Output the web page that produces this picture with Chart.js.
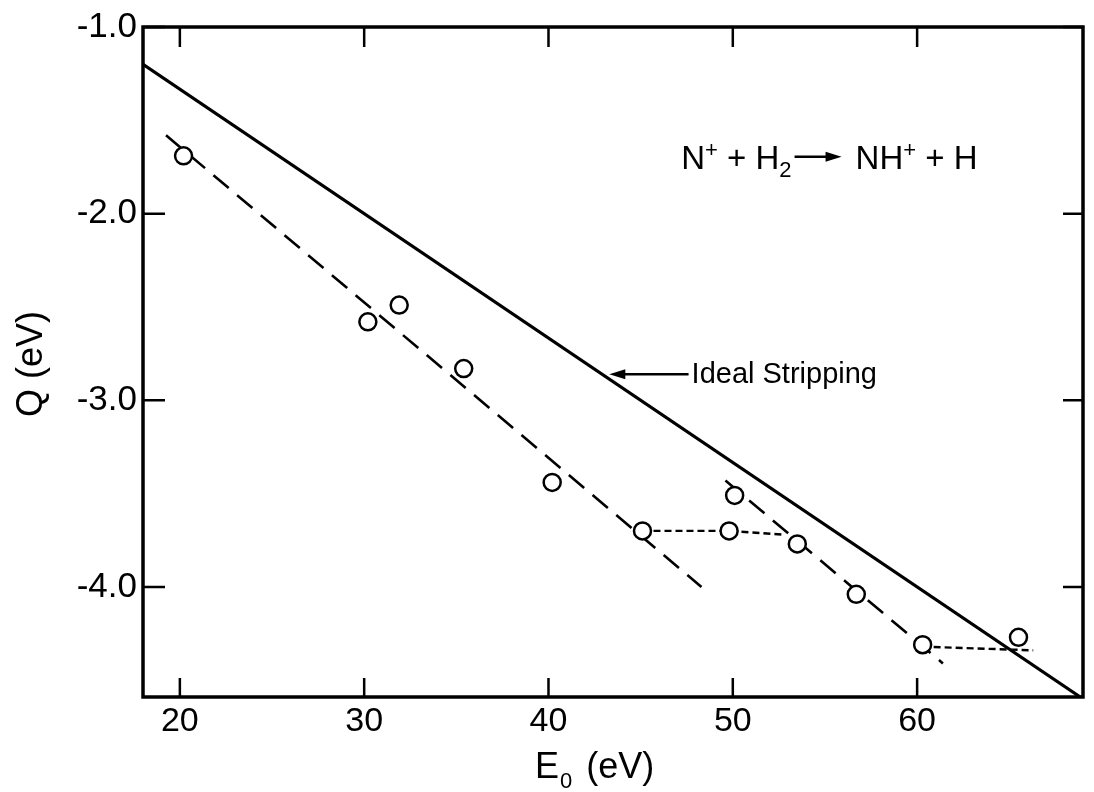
<!DOCTYPE html>
<html>
<head>
<meta charset="utf-8">
<title>Q vs E0, N+ + H2 -> NH+ + H</title>
<script src="https://cdn.jsdelivr.net/npm/chart.js@4.4.1/dist/chart.umd.min.js"></script>
<style>
  html, body { margin: 0; padding: 0; background: #fff; }
</style>
</head>
<body>
<canvas id="chart" width="1094" height="792"></canvas>
<script>
// measured points: E0 (eV) and Q (eV)
const pointE = [20.2, 30.2, 31.9, 35.4, 40.2, 45.1, 49.8, 50.1, 53.5, 56.7, 60.3, 65.5];
const pointQ = [-1.69, -2.58, -2.49, -2.83, -3.44, -3.70, -3.70, -3.51, -3.77, -4.04, -4.31, -4.27];

// ideal stripping line (end points)
const idealE = [18, 69];
const idealQ = [-1.2, -4.6];

// long-dashed guide lines
const fitAE = [19.25, 48.3];
const fitAQ = [-1.58, -4.0];
const fitBE = [49.6, 61.4];
const fitBQ = [-3.43, -4.41];

// short-dashed links
const linkAE = [45.1, 49.8, 52.7];
const linkAQ = [-3.70, -3.70, -3.72];
const linkBE = [60.3, 66.3];
const linkBQ = [-4.32, -4.34];

const xTicks = [20, 30, 40, 50, 60];
const yTicks = [-1.0, -2.0, -3.0, -4.0];

const FONT = "'Liberation Sans', Arial, sans-serif";

const pairs = (xs, ys) => xs.map((v, i) => ({ x: v, y: ys[i] }));

const lineSet = (xs, ys, width, dash, order) => ({
  data: pairs(xs, ys),
  showLine: true,
  borderColor: '#000',
  borderWidth: width,
  borderDash: dash,
  pointRadius: 0,
  order: order
});

// frame, inward ticks, labels that Chart.js cannot do by itself
const decor = {
  id: 'decor',
  afterDraw(chart) {
    const { ctx, chartArea: a, scales: { x, y } } = chart;
    ctx.save();
    ctx.strokeStyle = '#000';
    ctx.fillStyle = '#000';

    ctx.lineWidth = 3.5;
    ctx.strokeRect(a.left, a.top, a.right - a.left, a.bottom - a.top);

    ctx.lineWidth = 2.5;
    ctx.beginPath();
    xTicks.forEach(v => {
      const px = x.getPixelForValue(v);
      ctx.moveTo(px, a.bottom); ctx.lineTo(px, a.bottom - 19);
      ctx.moveTo(px, a.top); ctx.lineTo(px, a.top + 20);
    });
    yTicks.forEach(v => {
      const py = y.getPixelForValue(v);
      ctx.moveTo(a.left, py); ctx.lineTo(a.left + 22, py);
      ctx.moveTo(a.right, py); ctx.lineTo(a.right - 20, py);
    });
    ctx.stroke();

    const arrowHead = (tx, ty, dir) => {
      ctx.beginPath();
      ctx.moveTo(tx, ty);
      ctx.lineTo(tx + dir * 16, ty - 5);
      ctx.lineTo(tx + dir * 16, ty + 5);
      ctx.closePath();
      ctx.fill();
    };

    // "Ideal Stripping" pointer
    const tipX = x.getPixelForValue(43.3), tipY = y.getPixelForValue(-2.86);
    const tailX = x.getPixelForValue(47.6);
    ctx.lineWidth = 2.5;
    ctx.beginPath(); ctx.moveTo(tipX + 10, tipY); ctx.lineTo(tailX, tipY); ctx.stroke();
    arrowHead(tipX, tipY, 1);
    ctx.font = '29px ' + FONT;
    ctx.textBaseline = 'middle';
    ctx.textAlign = 'left';
    ctx.fillText('Ideal Stripping', tailX + 3, tipY + 1);

    // reaction label with super/subscripts
    ctx.textBaseline = 'alphabetic';
    const base = y.getPixelForValue(-1.76);
    let cx = x.getPixelForValue(47.2);
    const parts = [
      { t: 'N', s: 33 }, { t: '+', s: 22, dy: -12 }, { t: ' + H', s: 33 },
      { t: '2', s: 22, dy: 8 }, { arrow: 50 }, { t: 'NH', s: 33 },
      { t: '+', s: 22, dy: -12 }, { t: ' + H', s: 33 }
    ];
    parts.forEach(p => {
      if (p.arrow) {
        const ay = base - 12;
        ctx.lineWidth = 2.5;
        ctx.beginPath(); ctx.moveTo(cx + 3, ay); ctx.lineTo(cx + p.arrow - 8, ay); ctx.stroke();
        arrowHead(cx + p.arrow, ay, -1);
        cx += p.arrow + 14;
        return;
      }
      ctx.font = p.s + 'px ' + FONT;
      ctx.fillText(p.t, cx, base + (p.dy || 0));
      cx += ctx.measureText(p.t).width;
    });

    // axis titles
    ctx.font = '36px ' + FONT;
    let tx = 535;
    ctx.fillText('E', tx, 778);
    tx += ctx.measureText('E').width;
    ctx.font = '22px ' + FONT;
    ctx.fillText('0', tx + 1, 788);
    tx += ctx.measureText('0').width + 1;
    ctx.font = '36px ' + FONT;
    ctx.fillText(' (eV)', tx + 4, 778);

    ctx.translate(42, 417);
    ctx.rotate(-Math.PI / 2);
    ctx.fillText('Q (eV)', 0, 0);
    ctx.restore();
  }
};

new Chart(document.getElementById('chart'), {
  type: 'scatter',
  data: {
    datasets: [
      {
        data: pairs(pointE, pointQ),
        showLine: false,
        pointRadius: 8.5,
        pointBorderWidth: 2.5,
        pointBackgroundColor: '#fff',
        pointBorderColor: '#000',
        order: 0
      },
      lineSet(idealE, idealQ, 3.2, [], 1),
      lineSet(fitAE, fitAQ, 2.6, [20, 11], 2),
      lineSet(fitBE, fitBQ, 2.6, [20, 11], 3),
      lineSet(linkAE, linkAQ, 2.4, [7, 4], 4),
      lineSet(linkBE, linkBQ, 2.4, [7, 4], 5)
    ]
  },
  options: {
    responsive: false,
    animation: false,
    devicePixelRatio: 1,
    layout: { padding: { top: 23, right: 4, left: 0, bottom: 0 } },
    plugins: { legend: { display: false }, tooltip: { enabled: false } },
    scales: {
      x: {
        type: 'linear',
        min: 18,
        max: 69,
        afterBuildTicks: s => { s.ticks = xTicks.map(v => ({ value: v })); },
        afterFit: s => { s.height = 95; },
        grid: { display: false, drawTicks: false },
        border: { display: false },
        ticks: {
          autoSkip: false, maxRotation: 0, padding: 4, color: '#000',
          font: { family: FONT, size: 34 }
        }
      },
      y: {
        type: 'linear',
        min: -4.59,
        max: -1.0,
        afterBuildTicks: s => { s.ticks = yTicks.map(v => ({ value: v })); },
        afterFit: s => { s.width = 143; },
        grid: { display: false, drawTicks: false },
        border: { display: false },
        ticks: {
          autoSkip: false, padding: 6, color: '#000',
          font: { family: FONT, size: 35 },
          callback: v => v.toFixed(1)
        }
      }
    }
  },
  plugins: [decor]
});
</script>
</body>
</html>
